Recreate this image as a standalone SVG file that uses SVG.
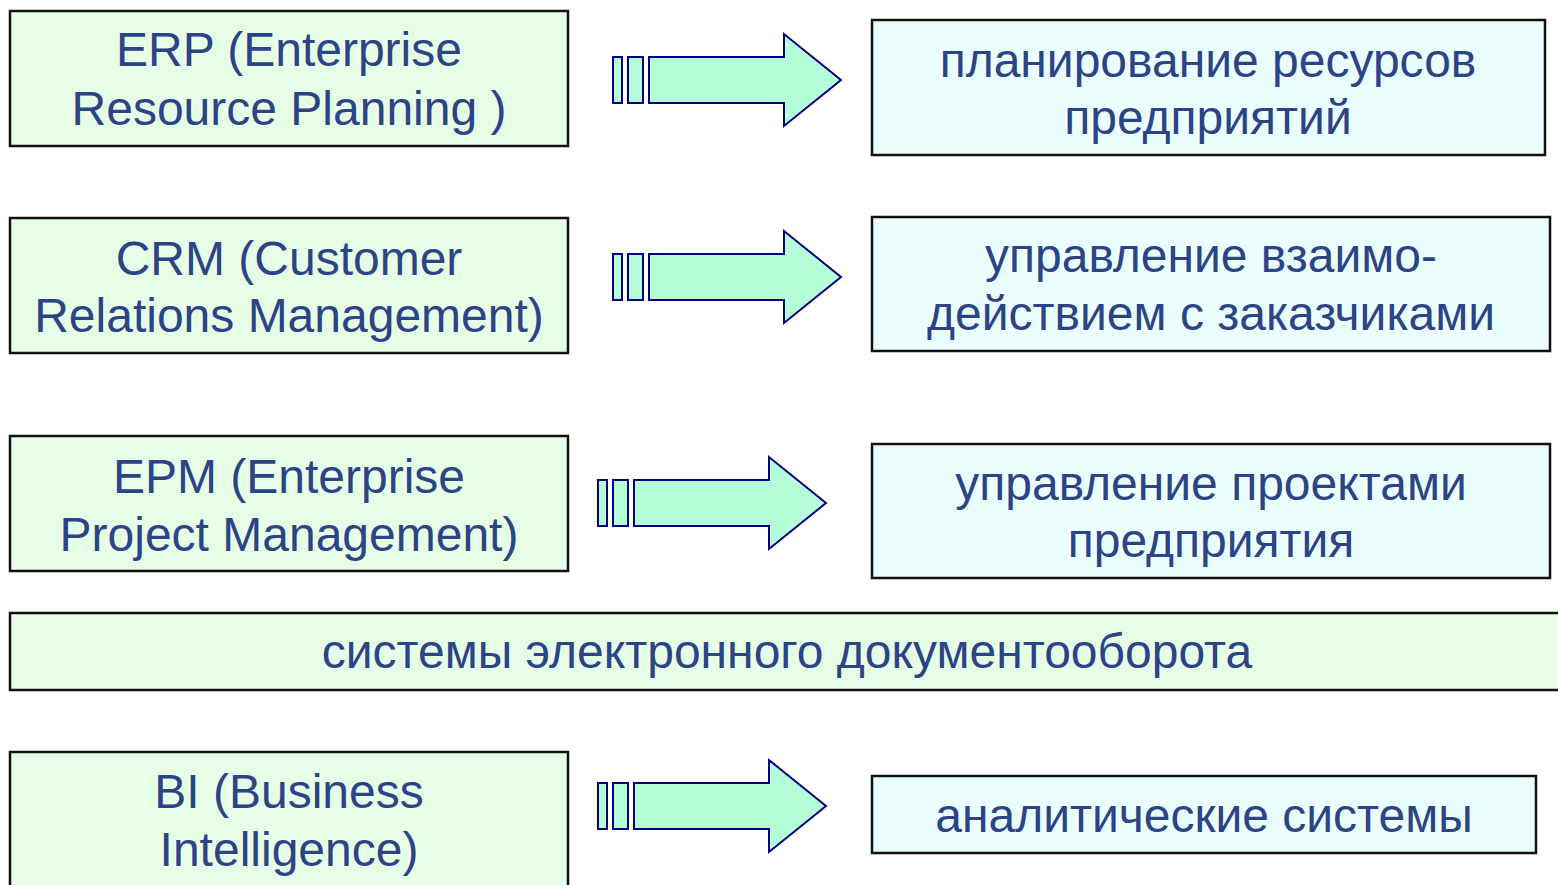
<svg xmlns="http://www.w3.org/2000/svg" xmlns:xlink="http://www.w3.org/1999/xlink" width="1558" height="885" viewBox="0 0 1558 885">
  <style>
    .term { fill: #e6fee6; stroke: #111; stroke-width: 2.5; }
    .desc { fill: #eafefe; stroke: #111; stroke-width: 2.5; }
    .lbl { font-family: "Liberation Sans", Arial, sans-serif; font-size: 48px; fill: #2c4385; text-anchor: middle; }
    .arr { fill: #b4fdd6; stroke: #000080; stroke-width: 2; stroke-linejoin: miter; }
  </style>
  <defs>
    <!-- striped block arrow: two bars followed by a wide arrow -->
    <g id="blockArrow">
      <rect class="arr" x="0" y="0" width="9" height="46"/>
      <rect class="arr" x="15" y="0" width="15" height="46"/>
      <path class="arr" d="M36,0 H171 V-23 L228,23 L171,69 V46 H36 Z"/>
    </g>
  </defs>
  <rect width="1558" height="885" fill="#fff"/>

  <g id="connectors">
    <use xlink:href="#blockArrow" transform="translate(613,57)"/>
    <use xlink:href="#blockArrow" transform="translate(613,254)"/>
    <use xlink:href="#blockArrow" transform="translate(598,480)"/>
    <use xlink:href="#blockArrow" transform="translate(598,783)"/>
  </g>

  <g id="erp">
    <rect class="term" x="10" y="11" width="558" height="135"/>
    <text class="lbl" x="289" y="66">ERP (Enterprise</text>
    <text class="lbl" x="289" y="125">Resource Planning )</text>
  </g>
  <g id="erp-desc">
    <rect class="desc" x="872" y="20" width="673" height="135"/>
    <text class="lbl" x="1208" y="77">планирование ресурсов</text>
    <text class="lbl" x="1208" y="134">предприятий</text>
  </g>

  <g id="crm">
    <rect class="term" x="10" y="218" width="558" height="135"/>
    <text class="lbl" x="289" y="275">CRM (Customer</text>
    <text class="lbl" x="289" y="332">Relations Management)</text>
  </g>
  <g id="crm-desc">
    <rect class="desc" x="872" y="217" width="678" height="134"/>
    <text class="lbl" x="1211" y="272">управление взаимо-</text>
    <text class="lbl" x="1211" y="330">действием с заказчиками</text>
  </g>

  <g id="epm">
    <rect class="term" x="10" y="436" width="558" height="135"/>
    <text class="lbl" x="289" y="493">EPM (Enterprise</text>
    <text class="lbl" x="289" y="551">Project Management)</text>
  </g>
  <g id="epm-desc">
    <rect class="desc" x="872" y="444" width="678" height="134"/>
    <text class="lbl" x="1211" y="500">управление проектами</text>
    <text class="lbl" x="1211" y="557">предприятия</text>
  </g>

  <g id="edms">
    <rect class="term" x="10" y="613" width="1560" height="77"/>
    <text class="lbl" x="787" y="668">системы электронного документооборота</text>
  </g>

  <g id="bi">
    <rect class="term" x="10" y="752" width="558" height="140"/>
    <text class="lbl" x="289" y="808">BI (Business</text>
    <text class="lbl" x="289" y="866">Intelligence)</text>
  </g>
  <g id="bi-desc">
    <rect class="desc" x="872" y="776" width="664" height="77"/>
    <text class="lbl" x="1204" y="832">аналитические системы</text>
  </g>
</svg>
